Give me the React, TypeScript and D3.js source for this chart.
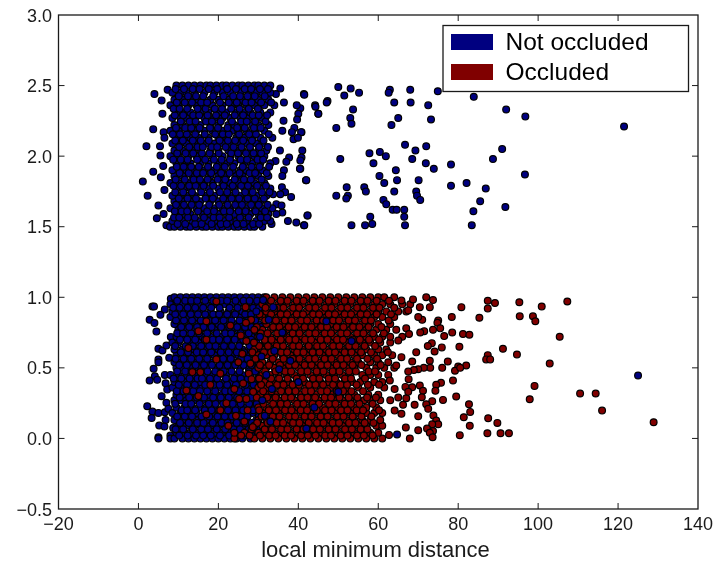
import React from "react";
import * as d3 from "d3";

type Row = [number, number[]];
type Pt = [number, number];

// y value, then the x values read along that strip of the dense upper band
const upperRows: Row[] = [
  [1.5, [9, 10.5, 12, 13, 14.5, 16, 17, 18.5, 20, 21, 22.5, 24, 25, 26.5, 28, 29, 31]],
  [1.54, [8.5, 11, 13.5, 15, 17.5, 19, 21.5, 23, 24.5, 27, 29.5, 31.5, 33]],
  [1.59, [9.5, 11.5, 13, 16, 18, 20, 22, 24, 26, 28, 30, 32.5]],
  [1.63, [8, 10, 12.5, 14.5, 16.5, 19, 21, 23, 25, 27, 29, 31, 33.5]],
  [1.68, [9, 11, 13.5, 15.5, 18, 20, 22, 24.5, 26.5, 28.5, 30.5]],
  [1.72, [8.5, 10.5, 12, 14, 17, 19, 21.5, 23.5, 25.5, 27.5, 29.5, 32]],
  [1.77, [9.5, 11.5, 13, 15.5, 17.5, 20, 22.5, 24, 26.5, 28, 30.5, 33]],
  [1.81, [8, 10, 12.5, 14.5, 16.5, 18.5, 21, 23, 25, 27, 29, 31.5]],
  [1.86, [9, 11, 13.5, 15, 18, 20, 22, 24.5, 26, 28.5, 30, 32.5]],
  [1.9, [8.5, 10.5, 12, 14, 16.5, 19, 21, 23.5, 25.5, 27, 29.5, 31]],
  [1.95, [9.5, 11.5, 13, 15.5, 17.5, 20, 22, 24, 26.5, 28.5, 30.5, 33]],
  [2.0, [8, 10, 12.5, 14.5, 16, 18.5, 21, 23, 25, 27.5, 29, 31.5]],
  [2.04, [9, 11, 13.5, 15.5, 18, 20, 22.5, 24.5, 26, 28, 30, 32]],
  [2.09, [8.5, 10.5, 12, 14, 17, 19, 21, 23, 25.5, 27, 29.5, 31]],
  [2.13, [9.5, 11.5, 13, 15, 17.5, 20, 22, 24.5, 26.5, 28.5, 30.5, 33.5]],
  [2.18, [8, 10, 12.5, 14.5, 16.5, 18.5, 21, 23.5, 25, 27, 29, 31.5]],
  [2.22, [9, 11, 13.5, 15.5, 18, 20, 22.5, 24, 26, 28.5, 30, 32.5]],
  [2.27, [8.5, 10.5, 12, 14, 16.5, 19, 21, 23, 25.5, 27.5, 29.5, 31]],
  [2.31, [9.5, 11.5, 13, 15.5, 17.5, 20, 22, 24.5, 26.5, 28, 30.5, 33]],
  [2.36, [8, 10, 12.5, 14.5, 16, 18.5, 21, 23.5, 25, 27, 29, 31.5, 34]],
  [2.4, [9, 11, 13.5, 15, 18, 20, 22.5, 24, 26, 28.5, 30, 32.5]],
  [2.45, [8.5, 10.5, 12, 14, 16.5, 19, 21, 23, 25.5, 27.5, 29.5, 31, 33]],
  [2.5, [9.5, 11, 12.5, 14, 15.5, 17, 18, 19.5, 21, 22, 23.5, 25, 26, 27.5, 29, 30, 31.5, 33]],
];

// second pass over the same band, between the strips above
const upperFillRows: Row[] = [
  [1.52, [9.8, 11.7, 14.2, 15.8, 18.3, 20.6, 22.1, 24.6, 26.3, 28.7, 30.2]],
  [1.565, [8.9, 10.2, 12.4, 14.1, 16.4, 18.8, 20.3, 22.7, 25.4, 27.6, 30.6, 32.2]],
  [1.61, [9.1, 10.8, 12.2, 14.9, 17.2, 18.9, 21.4, 22.9, 25.1, 26.8, 29.3, 31.7]],
  [1.655, [9.4, 11.4, 13.3, 15.2, 17.7, 20.2, 22.3, 24.2, 25.9, 28.2, 30.1, 32.3]],
  [1.7, [10.1, 12.3, 14.4, 16.8, 18.6, 21.2, 23.3, 25.2, 27.3, 29.1, 31.4]],
  [1.745, [9.2, 11.2, 13.4, 15.7, 17.9, 20.4, 22.2, 24.3, 26.7, 28.6, 30.9, 32.8]],
  [1.79, [8.8, 10.7, 12.7, 14.3, 16.3, 18.7, 21.3, 23.6, 25.7, 27.4, 29.7, 31.9]],
  [1.835, [9.3, 11.6, 13.8, 15.4, 17.3, 19.8, 21.7, 24.1, 26.4, 28.1, 30.8]],
  [1.88, [10.3, 12.6, 14.6, 16.2, 18.2, 20.7, 22.8, 25.3, 27.8, 29.2, 32.1]],
  [1.925, [9.6, 11.3, 13.2, 15.1, 17.4, 19.6, 21.6, 23.7, 26.1, 28.3, 30.3, 32.7]],
  [1.975, [8.7, 10.6, 12.3, 14.7, 16.7, 18.9, 20.8, 22.9, 25.6, 27.2, 29.8, 31.2]],
  [2.02, [9.7, 11.8, 13.7, 15.9, 17.8, 20.1, 23.2, 24.9, 26.9, 28.8, 30.7]],
  [2.065, [10.2, 12.7, 14.8, 16.1, 18.3, 19.7, 21.8, 23.8, 25.8, 27.9, 30.2, 32.4]],
  [2.11, [9.2, 11.1, 13.6, 15.6, 17.6, 20.3, 22.4, 24.2, 26.2, 28.4, 31.3]],
  [2.155, [8.6, 10.4, 12.1, 14.2, 16.6, 19.2, 21.1, 22.6, 25.2, 27.7, 29.4, 32.6]],
  [2.2, [9.4, 11.7, 13.2, 15.3, 17.9, 19.9, 22.3, 24.7, 26.6, 28.9, 30.6]],
  [2.245, [10.6, 12.8, 14.3, 16.9, 18.4, 20.6, 23.4, 25.7, 27.1, 29.2, 31.8]],
  [2.29, [9.1, 11.2, 13.7, 15.2, 17.3, 19.4, 21.6, 24.1, 26.2, 28.6, 30.1, 32.2]],
  [2.335, [8.8, 10.3, 12.2, 14.8, 16.8, 19.1, 20.9, 23.2, 25.3, 27.6, 29.9]],
  [2.38, [9.6, 11.6, 13.4, 15.7, 17.2, 20.4, 22.6, 24.6, 26.8, 28.3, 30.7, 33.2]],
  [2.425, [10.1, 12.4, 14.4, 16.2, 18.7, 21.3, 23.7, 25.4, 27.3, 29.1, 31.6]],
  [2.475, [9.3, 11.4, 13.6, 15.3, 17.6, 19.7, 22.2, 24.4, 26.6, 28.2, 30.4, 32.4]],
];

const upperOutliers: Pt[] = [
  [41.4, 2.44], [50, 2.49], [53.1, 2.48], [51.5, 2.43], [55.2, 2.45], [62.9, 2.47], [62.6, 2.45], [68, 2.47],
  [74.9, 2.46], [47.3, 2.39], [44.2, 2.36], [45, 2.3], [40.5, 2.34], [53.7, 2.33], [53, 2.27], [53.3, 2.23],
  [49.5, 2.2], [64, 2.38], [68.1, 2.38], [72.5, 2.36], [65, 2.27], [63.3, 2.22], [73.2, 2.26], [83.9, 2.42],
  [92, 2.33], [96.8, 2.28], [121.5, 2.21], [40.8, 2.17], [41, 2.04], [40.8, 1.99], [40.5, 1.91], [41.9, 1.83],
  [50.5, 1.98], [57.8, 2.02], [60.4, 2.03], [61.9, 2], [58.8, 1.95], [66.7, 2.08], [69.3, 2.04], [72, 2.07],
  [68.5, 1.98], [71.9, 1.95], [73.9, 1.91], [78.2, 1.94], [88.7, 1.98], [91, 2.05], [96.7, 1.87], [64.4, 1.9],
  [60.3, 1.86], [61.5, 1.81], [64.7, 1.83], [70.1, 1.83], [78.2, 1.79], [82.1, 1.81], [86.9, 1.77], [52.1, 1.78],
  [52.4, 1.72], [52, 1.7], [49.5, 1.72], [56.5, 1.78], [56.9, 1.75], [64, 1.75], [69.5, 1.75], [69.7, 1.72],
  [70.5, 1.69], [61.3, 1.69], [62, 1.66], [63.6, 1.62], [64.6, 1.62], [66.5, 1.62], [66.5, 1.57], [66.7, 1.51],
  [58, 1.57], [58.5, 1.52], [56.7, 1.51], [53.3, 1.51], [42.3, 1.58], [41.4, 1.51], [85.5, 1.68], [83.8, 1.61],
  [91.8, 1.64], [83.4, 1.51],
  [4, 2.44], [5.8, 2.395], [7.3, 2.47], [6, 2.3], [3.7, 2.19], [6.3, 2.17], [6.5, 2.13], [2, 2.07], [5.4, 2.07],
  [5.5, 2.005], [6.2, 1.93], [3.7, 1.89], [5.6, 1.85], [1.1, 1.82], [2.3, 1.72], [6.5, 1.76], [5, 1.65], [4.6, 1.56],
  [6.3, 1.59], [7, 1.51], [7.9, 1.5],
  [35.5, 2.48], [34.4, 2.44], [36.4, 2.38], [41.5, 2.435], [44.3, 2.35], [47.1, 2.38], [45, 2.3], [39.6, 2.36],
  [40, 2.3], [39.7, 2.26], [36.3, 2.25], [36, 2.18], [39, 2.2], [38.4, 2.17], [40.7, 2.17], [38.8, 2.12], [39.9, 2.13],
  [35.4, 2.04], [40.5, 1.97], [37.7, 1.99], [37, 1.96], [34.3, 1.965], [36.4, 1.9], [36, 1.86], [40.4, 1.91], [42, 1.83],
  [35.9, 1.78], [36.7, 1.745], [38.2, 1.71], [35.5, 1.73], [34.5, 1.66], [35.8, 1.65], [36, 1.6], [42.3, 1.58],
  [37.4, 1.54], [39.5, 1.53], [41.5, 1.51], [33.3, 1.52], [33.7, 1.73], [34.5, 1.59],
];

// blue part of the lower band
const lowerBlueRows: Row[] = [
  [0, [9, 11, 12.5, 14, 15.5, 17, 18.5, 20, 21.5, 23, 24.5, 26, 28]],
  [0.04, [9.5, 11.5, 13, 15, 17, 19, 21, 22.5, 25, 27, 29]],
  [0.09, [10, 12, 14, 16, 18, 20, 22, 24, 26, 28]],
  [0.13, [9, 11, 13, 15, 17, 19, 21, 23, 25, 27, 29.5]],
  [0.18, [8.5, 10.5, 12.5, 14.5, 16.5, 18.5, 20.5, 22.5, 24.5, 26.5, 28.5]],
  [0.22, [9.5, 11.5, 13.5, 15.5, 17, 19, 21.5, 23, 25, 27, 29]],
  [0.27, [9, 10.5, 12, 14, 16, 18, 20, 22, 24, 26, 28, 30]],
  [0.31, [9.5, 11, 13, 15, 17.5, 19.5, 21, 23.5, 25.5, 27.5, 29.5]],
  [0.36, [8.5, 10.5, 12.5, 14.5, 16, 18, 20.5, 22.5, 24.5, 26.5, 28.5]],
  [0.4, [9, 11.5, 13.5, 15.5, 17.5, 19, 21.5, 23.5, 25, 27, 29, 31]],
  [0.45, [8, 10, 12, 14, 16.5, 18.5, 20, 22, 24, 26, 28, 30]],
  [0.5, [9.5, 11, 13, 15, 17, 19.5, 21, 23, 25.5, 27.5, 29.5]],
  [0.54, [9, 10.5, 12.5, 14.5, 16, 18, 20.5, 22.5, 24.5, 26.5, 28.5, 30.5]],
  [0.59, [9.5, 11.5, 13.5, 15.5, 17.5, 19, 21.5, 23.5, 25, 27, 29]],
  [0.63, [9, 11, 12.5, 14, 16.5, 18.5, 20, 22, 24, 26, 28, 30]],
  [0.68, [8.5, 10, 13, 15, 17, 19.5, 21, 23, 25.5, 27.5, 29.5, 31.5]],
  [0.72, [9.5, 11.5, 13.5, 14.5, 16, 18, 20.5, 22.5, 24.5, 26.5, 28.5]],
  [0.77, [10, 12, 14, 15.5, 17.5, 19, 21.5, 23.5, 25, 27, 29, 31]],
  [0.81, [9, 11, 13, 15, 16.5, 18.5, 20, 22, 24, 26, 28, 30]],
  [0.86, [8, 10.5, 12.5, 14.5, 17, 19.5, 21, 23, 25.5, 27.5, 29.5, 32]],
  [0.9, [8.5, 10, 11.5, 13.5, 15.5, 18, 20.5, 22.5, 24.5, 26, 28.5, 30.5]],
  [0.95, [8, 9.5, 11, 13, 15, 17, 19, 21.5, 23.5, 25, 27, 29, 31]],
  [1, [9, 10.5, 12, 13.5, 15, 16.5, 18, 19.5, 21, 22.5, 24, 25.5, 27, 28.5, 30, 31.5]],
];

const lowerBlueFillRows: Row[] = [
  [0.02, [10.2, 12.3, 14.4, 16.2, 18.1, 20.4, 22.7, 24.2, 26.6, 28.3]],
  [0.065, [9.3, 11.2, 13.6, 15.7, 17.4, 19.6, 21.7, 23.8, 25.4, 27.6, 29.8]],
  [0.11, [10.4, 12.6, 14.7, 16.3, 18.6, 20.8, 22.3, 24.6, 26.7, 28.4]],
  [0.155, [9.7, 11.6, 13.4, 15.8, 17.7, 19.8, 21.6, 23.4, 25.7, 27.3, 30.1]],
  [0.2, [10.8, 12.2, 14.2, 16.6, 18.3, 20.2, 22.4, 24.3, 26.2, 28.7]],
  [0.245, [9.2, 11.8, 13.2, 15.3, 17.6, 19.3, 21.2, 23.6, 25.6, 27.7, 29.6]],
  [0.29, [10.3, 12.7, 14.6, 16.4, 18.7, 20.6, 22.6, 24.7, 26.3, 28.2]],
  [0.335, [9.6, 11.3, 13.7, 15.4, 17.2, 19.2, 21.7, 23.2, 25.2, 27.2, 29.8]],
  [0.38, [10.1, 12.2, 14.1, 16.7, 18.8, 20.3, 22.2, 24.4, 26.8, 28.8]],
  [0.425, [8.8, 10.7, 12.8, 14.8, 15.9, 17.9, 19.7, 21.9, 23.9, 25.6, 27.4, 30.2]],
  [0.475, [9.7, 11.7, 13.3, 15.6, 17.3, 19.2, 21.3, 23.3, 25.3, 27.7, 29.2]],
  [0.52, [10.2, 12.1, 14.3, 16.4, 18.4, 20.3, 22.3, 24.2, 26.3, 28.3, 31]],
  [0.565, [9.3, 11.3, 13.2, 15.2, 17.2, 19.7, 21.2, 23.1, 25.7, 27.3, 29.7]],
  [0.61, [10.6, 12.4, 14.6, 16.2, 18.2, 20.6, 22.6, 24.6, 26.4, 28.6]],
  [0.655, [9.2, 11.8, 13.6, 15.7, 17.7, 19.3, 21.4, 23.4, 25.2, 27.8, 30.3]],
  [0.7, [10.4, 12.2, 14.2, 16.6, 18.6, 20.2, 22.2, 24.1, 26.2, 28.2]],
  [0.745, [9.7, 11.2, 13.2, 15.2, 17.2, 19.6, 21.7, 23.2, 25.6, 27.6, 29.8]],
  [0.79, [10.7, 12.7, 14.7, 16.3, 18.3, 20.7, 22.7, 24.7, 26.7, 28.3, 30.7]],
  [0.835, [9.4, 11.4, 13.4, 15.6, 17.6, 19.2, 21.3, 23.3, 25.3, 27.3, 29.2]],
  [0.88, [9.2, 11.2, 13.1, 14.9, 16.7, 18.7, 20.2, 22.2, 24.2, 26.7, 28.2, 31]],
  [0.925, [8.7, 10.3, 12.3, 14.2, 16.2, 18.2, 20.3, 22.8, 24.8, 26.8, 28.7, 30.2]],
  [0.975, [9.7, 11.7, 13.2, 14.7, 16.7, 18.7, 20.7, 22.2, 24.3, 26.3, 27.8, 29.7, 32.3]],
];

const lowerBlueOutliers: Pt[] = [
  [3.5, 0.935], [3.9, 0.935], [2.8, 0.84], [4, 0.817], [4.5, 0.758], [5.5, 0.876], [8.1, 0.99], [6.6, 0.914], [8.1, 0.718],
  [5, 0.635], [6, 0.623], [7, 0.658], [5, 0.559], [5, 0.54], [7.7, 0.571], [3.8, 0.493], [4.1, 0.441], [2.8, 0.41],
  [4.7, 0.415], [6.6, 0.45], [6.8, 0.391], [7.2, 0.346], [5.8, 0.299], [7, 0.252], [2.2, 0.228], [3.5, 0.19], [5, 0.181],
  [3.3, 0.145], [6.6, 0.186], [7.5, 0.21], [6.8, 0.131], [5.2, 0.091], [6.5, 0.084], [5, 0.008], [5, 0], [8, 0.02], [8, 0], [8.7, 0.074],
];

// red part of the lower band
const lowerRedRows: Row[] = [
  [0, [24, 29, 31, 33, 35, 37, 39, 41, 43, 45, 47, 49, 51, 53, 55, 57, 59, 61]],
  [0.04, [26.5, 30, 32, 34, 36, 38, 40, 42, 44, 46, 48, 50, 52, 54, 56, 58, 60]],
  [0.09, [29, 31, 33, 35, 37, 39, 41, 43, 45, 47, 49, 51, 53, 55, 57, 59.5, 61]],
  [0.13, [30, 32, 34, 36, 38, 40, 42, 44, 46, 48, 50, 52, 54, 56, 58, 60.5]],
  [0.18, [31, 33, 35, 37, 39, 41, 43, 45, 47, 49, 51, 53, 55, 57, 59, 61]],
  [0.22, [30, 32, 34, 36, 38, 40, 42, 44, 46, 48, 50, 52, 54, 57, 59.5]],
  [0.27, [31, 33, 35, 37, 39, 41, 43, 45, 47, 49, 51, 53, 55, 56.5, 58, 60.5, 63]],
  [0.31, [30.5, 32.5, 34.5, 36.5, 38.5, 40.5, 42.5, 44.5, 46.5, 48.5, 50.5, 52.5, 54, 57.5, 60]],
  [0.36, [30, 32, 34, 36, 38, 40, 42, 44, 46, 48, 50, 52, 55, 58, 61.5]],
  [0.4, [31.5, 33.5, 35.5, 37.5, 39.5, 41.5, 43.5, 45.5, 47.5, 49.5, 51.5, 53.5, 55.5, 59, 61]],
  [0.45, [31, 33, 35, 37, 39, 41, 43, 45, 47, 49, 51, 53, 56, 58, 60, 62.5]],
  [0.5, [30, 32, 34, 36, 38, 40, 42, 44, 46, 48, 50, 52, 54, 57, 59.5, 61.5, 64]],
  [0.54, [31, 33, 35, 37, 39, 41, 43, 45, 47, 49, 51, 53, 55, 58, 60, 62.5]],
  [0.59, [30, 32, 34, 36, 38, 40, 42, 44, 46, 48, 50, 52, 54, 56, 59, 61, 63.5]],
  [0.63, [29, 31, 33, 35, 37, 39, 41, 43, 45, 47, 49, 51, 53, 55, 57, 60, 62]],
  [0.68, [32, 34, 36, 38, 40, 42, 44, 46, 48, 50, 52, 54, 56, 58, 60.5, 63]],
  [0.72, [30, 33, 35, 37, 39, 41, 43, 45, 47, 49, 51, 53, 55, 57, 59, 61, 63, 66]],
  [0.77, [31, 33, 35, 37, 39, 41, 43, 45, 47, 49, 51, 53, 55, 57, 59.5, 62, 64.5]],
  [0.81, [32, 34, 36, 38, 40, 42, 44, 46, 48, 50, 52, 54, 56, 58, 60, 63]],
  [0.86, [31, 33, 35, 37, 39, 41, 43, 45, 47, 49, 51, 53, 55, 57, 59, 61, 64]],
  [0.9, [32, 34, 36, 38, 40, 42, 44, 46, 48, 50, 52, 54, 56, 58, 60, 62, 65, 67]],
  [0.95, [31, 33, 35, 37, 39, 41, 43, 45, 47, 49, 51, 53, 55, 57, 59, 61, 63, 66, 68]],
  [1, [32, 34, 36, 38, 40, 42, 44, 46, 48, 50, 52, 54, 56, 58, 60, 61.5, 64]],
];

const lowerRedFillRows: Row[] = [
  [0.02, [27.8, 30.4, 32.7, 34.3, 36.6, 38.2, 40.7, 42.4, 44.3, 46.7, 48.2, 50.6, 52.3, 54.7, 56.4, 58.6]],
  [0.065, [28.3, 31.6, 33.4, 35.7, 37.3, 39.6, 41.3, 43.7, 45.4, 47.6, 49.3, 51.7, 53.4, 55.6, 57.3]],
  [0.11, [29.7, 32.3, 34.6, 36.2, 38.7, 40.3, 42.6, 44.7, 46.3, 48.6, 50.2, 52.7, 54.3, 56.6, 58.8]],
  [0.155, [30.8, 33.6, 35.3, 37.7, 39.2, 41.6, 43.3, 45.6, 47.3, 49.7, 51.3, 53.6, 55.8, 58.3]],
  [0.2, [30.2, 32.6, 34.4, 36.7, 38.3, 40.6, 42.2, 44.6, 46.7, 48.3, 50.7, 52.3, 54.6, 56.2, 60.2]],
  [0.245, [31.3, 33.7, 35.6, 37.2, 39.7, 41.3, 43.6, 45.2, 47.7, 49.3, 51.6, 53.2, 55.3, 58.6]],
  [0.29, [29.6, 32.2, 34.3, 36.6, 38.2, 40.7, 42.3, 44.2, 46.6, 48.2, 50.3, 52.6, 54.8, 57.2, 59.4]],
  [0.335, [31.2, 33.3, 35.7, 37.6, 39.3, 41.7, 43.2, 45.7, 47.2, 49.6, 51.2, 53.3, 56.2]],
  [0.38, [30.7, 32.8, 34.7, 36.3, 38.6, 40.2, 42.7, 44.3, 46.2, 48.7, 50.6, 52.2, 54.6, 57.4, 60.2]],
  [0.425, [30.2, 33.2, 35.2, 37.3, 39.6, 41.2, 43.7, 45.3, 47.6, 49.2, 51.7, 53.2, 56.7]],
  [0.475, [31.7, 34.3, 36.7, 38.2, 40.7, 42.3, 44.6, 46.3, 48.6, 50.3, 52.7, 54.4, 57.6, 59.2]],
  [0.52, [30.4, 32.7, 35.4, 37.7, 39.2, 41.6, 43.3, 45.7, 47.3, 49.6, 51.3, 53.6, 55.8, 60.6]],
  [0.565, [29.3, 33.6, 36.3, 38.6, 40.3, 42.7, 44.2, 46.6, 48.3, 50.7, 52.2, 54.7, 57.3, 59.7]],
  [0.61, [31.4, 33.2, 35.7, 37.2, 39.7, 41.3, 43.6, 45.3, 47.7, 49.2, 51.6, 53.3, 55.7, 58.2, 62.4]],
  [0.655, [30.2, 32.4, 34.6, 36.2, 38.7, 40.2, 42.6, 44.7, 46.2, 48.7, 50.3, 52.7, 54.3, 56.6, 59.2]],
  [0.7, [31.6, 33.3, 35.6, 37.7, 39.3, 41.7, 43.2, 45.6, 47.3, 49.7, 51.2, 53.6, 55.4, 57.7, 60.2]],
  [0.745, [30.6, 32.3, 34.7, 36.3, 38.6, 40.3, 42.7, 44.3, 46.6, 48.2, 50.7, 52.2, 54.7, 56.3, 58.7, 61.4]],
  [0.79, [29.6, 33.7, 35.3, 37.6, 39.2, 41.6, 43.3, 45.7, 47.2, 49.6, 51.3, 53.7, 55.3, 57.6, 60.8]],
  [0.835, [31.7, 34.4, 36.6, 38.3, 40.7, 42.2, 44.6, 46.2, 48.7, 50.2, 52.6, 54.2, 56.7, 58.2, 62.6]],
  [0.88, [30.3, 33.2, 35.6, 37.2, 39.6, 41.2, 43.7, 45.2, 47.6, 49.2, 51.6, 53.2, 55.6, 57.2, 59.6, 63.2]],
  [0.925, [31.8, 34.7, 36.3, 38.7, 40.2, 42.7, 44.3, 46.7, 48.3, 50.7, 52.3, 54.7, 56.3, 58.7, 60.3, 64]],
  [0.975, [33.2, 35.6, 37.3, 39.6, 41.3, 43.6, 45.3, 47.6, 49.3, 51.6, 53.3, 55.6, 57.3, 59.6, 62.7]],
];

const lowerRedStray: Pt[] = [
  [19.5, 0.97], [34, 0.92], [17, 0.83], [23, 0.8], [15, 0.76], [29, 0.77], [17, 0.7], [27, 0.69], [12.5, 0.64], [26, 0.6],
  [28.5, 0.61], [19.5, 0.56], [25, 0.54], [13.5, 0.47], [15.5, 0.47], [20.5, 0.46], [28, 0.53], [12, 0.34], [15, 0.3],
  [22, 0.25], [17, 0.17], [24, 0.35], [26.5, 0.12], [24, 0.04], [20.5, 0.2], [27, 0.28], [18, 0.38], [22.5, 0.09],
  [26.8, 0.93], [28.2, 0.84], [25.6, 0.73], [27.6, 0.46], [26.2, 0.39], [28.7, 0.33], [27.3, 0.2], [28.6, 0.08], [25.7, 0.02],
  [24.4, 0.16], [28.3, 0.42], [26.9, 0.82], [28.9, 0.68], [25.2, 0.28],
];

const lowerRedOutliers: Pt[] = [
  [72, 1], [73.7, 0.98], [72.9, 0.93], [80.8, 0.93], [87.4, 0.975], [89.2, 0.96], [87.4, 0.92], [95.3, 0.965], [100.9, 0.935],
  [107.3, 0.97], [78.4, 0.86], [85.3, 0.855], [95.4, 0.865], [98.7, 0.865], [99.3, 0.83], [71, 0.84], [75, 0.835], [74.8, 0.82],
  [73.7, 0.77], [75.5, 0.78], [78.5, 0.75], [81.2, 0.74], [82.8, 0.735], [76.5, 0.725], [71.5, 0.76], [70.5, 0.75], [105.4, 0.72],
  [73.4, 0.675], [72.4, 0.654], [75.9, 0.645], [74.1, 0.616], [80.3, 0.65], [91.2, 0.635], [94.7, 0.595], [87.4, 0.59], [87, 0.56],
  [88, 0.56], [102.9, 0.53], [69.5, 0.61], [68.5, 0.545], [72.9, 0.55], [77.4, 0.545], [73, 0.5], [76, 0.5], [80, 0.51], [82, 0.517],
  [79.2, 0.48], [80.5, 0.5], [71.4, 0.5], [70, 0.49], [68.9, 0.484], [67.5, 0.474], [78.7, 0.41], [67.6, 0.42], [75.7, 0.394],
  [74.5, 0.38], [74.3, 0.337], [70.4, 0.375], [68.5, 0.363], [66.8, 0.365], [71.2, 0.337], [99.1, 0.372], [110.5, 0.318], [114.4, 0.318],
  [97.9, 0.278], [79.5, 0.297], [76.2, 0.273], [73.5, 0.264], [70.9, 0.292], [67, 0.285], [72, 0.242], [69.1, 0.238], [82.7, 0.242],
  [72.5, 0.21], [83, 0.188], [116, 0.197], [81.4, 0.15], [87.5, 0.143], [89.8, 0.11], [128.9, 0.115], [73.8, 0.162], [70, 0.157],
  [74.5, 0.127], [75, 0.1], [73.5, 0.1], [82.9, 0.089], [66.9, 0.077], [70, 0.058], [72.2, 0.07], [73.7, 0.053], [72.9, 0.04],
  [73.6, 0.008], [87.3, 0.037], [90.6, 0.037], [92.7, 0.037], [80.4, 0.022], [67.9, 0], [62.7, 0.025], [65.8, 0.174], [66.2, 0.238],
  [64.1, 0.197], [65, 0.29], [65.8, 0.977], [68.7, 0.985], [70.4, 0.93], [67.5, 0.907], [70, 0.86], [67, 0.78], [67.7, 0.74], [65, 0.694],
  [65.8, 0.576], [64.5, 0.517], [62.9, 0.41], [64.1, 0.35], [67.5, 0.33],
];

const lowerBlueOnTop: Pt[] = [
  [125, 0.446], [64.7, 0.028], [53.3, 0.69], [40, 0.4], [36, 0.75], [44, 0.22], [33, 0.12], [38, 0.55], [31, 0.27], [47, 0.83],
  [34, 0.62], [42, 0.07], [50, 0.33], [29.5, 0.9], [32, 0.45], [31.2, 0.98], [30.4, 0.72], [32.6, 0.84], [33.4, 0.35],
  [30.8, 0.58], [31.6, 0.16], [35.2, 0.49], [33.7, 0.93],
];

const legendItems = ["Not occluded", "Occluded"];
const xTicks = [-20, 0, 20, 40, 60, 80, 100, 120, 140];
const yTicks = [-0.5, 0, 0.5, 1, 1.5, 2, 2.5, 3];

const NAVY = "#000080";
const MAROON = "#800000";

const expand = (rows: Row[]): Pt[] => rows.flatMap(([y, xs]) => xs.map((x) => [x, y] as Pt));

const series: { color: string; pts: Pt[] }[] = [
  { color: NAVY, pts: [...upperOutliers, ...expand(upperRows), ...expand(upperFillRows)] },
  { color: NAVY, pts: [...lowerBlueOutliers, ...expand(lowerBlueRows), ...expand(lowerBlueFillRows)] },
  { color: MAROON, pts: [...expand(lowerRedRows), ...expand(lowerRedFillRows), ...lowerRedStray, ...lowerRedOutliers] },
  { color: NAVY, pts: lowerBlueOnTop },
];

export default function App() {
  const x = d3.scaleLinear().domain([-20, 140]).range([58.5, 698]);
  const y = d3.scaleLinear().domain([-0.5, 3]).range([509, 15]);
  const fmtY = d3.format(".1f");
  const fmtX = d3.format("d");
  const ink = "#1a1a1a";
  const font = "'Liberation Sans', Arial, sans-serif";

  return (
    <svg
      width={714}
      height={564}
      style={{ position: "absolute", left: 0, top: 0, background: "#fff" }}
    >
      <g style={{ filter: "blur(0.45px)" }}>
        {series.map((s, i) => (
          <g key={i} fill={s.color} stroke="#000" strokeWidth={1.2}>
            {s.pts.map((p, j) => (
              <circle key={j} cx={x(p[0])} cy={y(p[1])} r={3.4} />
            ))}
          </g>
        ))}

        <rect x={58.5} y={15} width={639.5} height={494} fill="none" stroke={ink} strokeWidth={1.3} />

        {xTicks.map((t) => (
          <g key={t}>
            {t > -20 && t < 140 && (
              <>
                <line x1={x(t)} x2={x(t)} y1={509} y2={503} stroke={ink} />
                <line x1={x(t)} x2={x(t)} y1={15} y2={21} stroke={ink} />
              </>
            )}
            <text x={x(t)} y={529.5} textAnchor="middle" fontFamily={font} fontSize={18} fill={ink}>
              {fmtX(t)}
            </text>
          </g>
        ))}
        {yTicks.map((t) => (
          <g key={t}>
            {t > -0.5 && t < 3 && (
              <>
                <line x1={58.5} x2={64.5} y1={y(t)} y2={y(t)} stroke={ink} />
                <line x1={698} x2={692} y1={y(t)} y2={y(t)} stroke={ink} />
              </>
            )}
            <text x={52} y={y(t) + 6.5} textAnchor="end" fontFamily={font} fontSize={18} fill={ink}>
              {fmtY(t)}
            </text>
          </g>
        ))}

        <text x={375.5} y={557} textAnchor="middle" fontFamily={font} fontSize={22} fill={ink}>
          local minimum distance
        </text>

        <rect x={443} y={25.5} width={245.5} height={66} fill="#fff" stroke={ink} strokeWidth={1.3} />
        {legendItems.map((d, i) => (
          <g key={d}>
            <rect x={451} y={34 + i * 30} width={42} height={16} fill={i === 0 ? NAVY : MAROON} />
            <text x={505.5} y={50 + i * 30} fontFamily={font} fontSize={24.5} fill="#000">
              {d}
            </text>
          </g>
        ))}
      </g>
    </svg>
  );
}
